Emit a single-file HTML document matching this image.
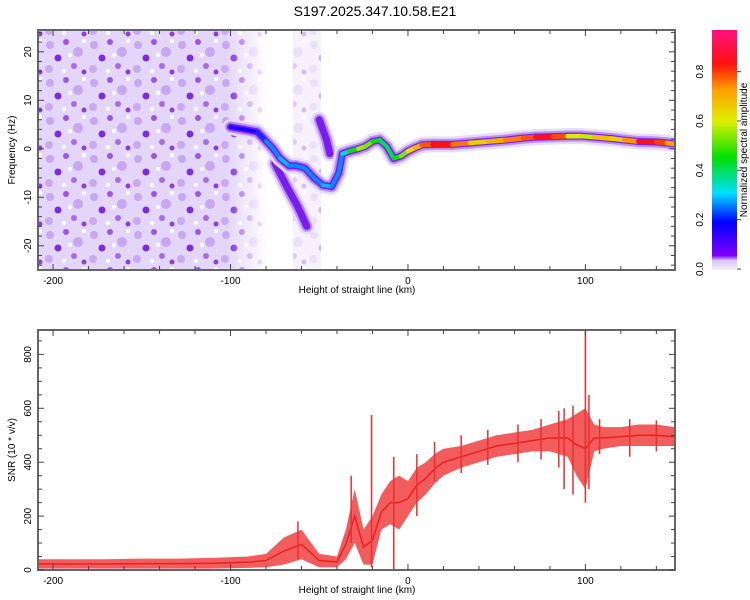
<!DOCTYPE html>
<html><head><meta charset="utf-8"><style>
body{margin:0;background:#fff;}
svg{display:block;font-family:"Liberation Sans",sans-serif;}
</style></head><body>
<svg id="c" width="750" height="600" viewBox="0 0 750 600">
<defs>
<pattern id="noise" width="44" height="38" patternUnits="userSpaceOnUse">
<rect width="44" height="38" fill="#e4d6f8"/>
<circle cx="6" cy="7" r="4" fill="#c7a6f2"/><circle cx="22" cy="4" r="3" fill="#9a55e8"/>
<circle cx="34" cy="14" r="5" fill="#c7a6f2"/><circle cx="14" cy="20" r="3.5" fill="#7b2be0"/>
<circle cx="30" cy="28" r="3" fill="#a56cea"/><circle cx="5" cy="31" r="4" fill="#c9aaf2"/>
<circle cx="40" cy="34" r="2.5" fill="#8a3de0"/><circle cx="20" cy="33" r="2" fill="#fff"/>
<circle cx="40" cy="3" r="2" fill="#fff"/><circle cx="26" cy="17" r="2" fill="#fff"/>
</pattern>
<linearGradient id="fade" x1="0" x2="1" y1="0" y2="0">
<stop offset="0" stop-color="#fff" stop-opacity="1"/><stop offset="0.82" stop-color="#fff" stop-opacity="1"/><stop offset="1" stop-color="#fff" stop-opacity="0"/>
</linearGradient>
<mask id="fm"><rect x="38" y="30" width="230" height="240" fill="url(#fade)"/></mask>
<linearGradient id="cbar" x1="0" x2="0" y1="1" y2="0">
<stop offset="0" stop-color="#f4eefc"/><stop offset="0.04" stop-color="#d9c4f6"/>
<stop offset="0.06" stop-color="#8000ff"/><stop offset="0.2" stop-color="#0000ff"/>
<stop offset="0.32" stop-color="#00e0ff"/><stop offset="0.47" stop-color="#00e000"/>
<stop offset="0.62" stop-color="#e0f000"/><stop offset="0.75" stop-color="#ffa000"/>
<stop offset="0.86" stop-color="#ff1010"/><stop offset="1" stop-color="#ff1080"/>
</linearGradient>
<clipPath id="clipTop"><rect x="38" y="30" width="637" height="240"/></clipPath>
<clipPath id="clipBot"><rect x="38" y="330" width="637" height="240"/></clipPath>
</defs>
<text x="375" y="16" text-anchor="middle" font-size="14">S197.2025.347.10.58.E21</text>
<g clip-path="url(#clipTop)">
<rect x="38" y="30" width="230" height="240" fill="url(#noise)" mask="url(#fm)"/>
<rect x="293" y="30" width="28" height="240" fill="url(#noise)" opacity="0.35"/>
<g id="ridge"></g>
</g>
<g id="snr" clip-path="url(#clipBot)"></g>
<rect x="38" y="30" width="637" height="240" fill="none" stroke="#666" stroke-width="2"/>
<rect x="38" y="330" width="637" height="240" fill="none" stroke="#666" stroke-width="2"/>
<g id="axes" font-size="10"></g>
<text x="357" y="293" text-anchor="middle" font-size="10">Height of straight line (km)</text>
<text x="357" y="593" text-anchor="middle" font-size="10">Height of straight line (km)</text>
<text transform="translate(15,150) rotate(-90)" text-anchor="middle" font-size="10">Frequency (Hz)</text>
<text transform="translate(15,450) rotate(-90)" text-anchor="middle" font-size="10">SNR (10 * v/v)</text>
<rect x="712" y="30" width="25" height="240" fill="url(#cbar)"/>
<text transform="translate(747,150) rotate(-90)" text-anchor="middle" font-size="10">Normalized spectral amplitude</text>
</svg>
<script>
// ---- data ----
const ridgeH=[-100,-92,-85,-80,-76,-72,-67,-63,-58,-53,-48,-43,-39,-37,-33,-28,-24,-20,-16,-12,-8,-4,0,4,8,14,25,35,45,55,65,72,82,90,98,105,115,122,130,140,146,150];
const ridgeF=[4.5,4,3.5,1.6,0,-2,-3.5,-3.5,-4,-6,-7.5,-7.8,-5,-1,-0.5,0,0.5,1.5,1.8,0.5,-2,-1.5,-0.5,0.2,0.8,0.9,0.9,1.2,1.5,1.8,2.2,2.4,2.5,2.6,2.6,2.4,2.1,1.8,1.5,1.4,1.2,1];
const ridgeA=[0.15,0.2,0.15,0.3,0.25,0.3,0.3,0.25,0.3,0.25,0.3,0.3,0.25,0.3,0.4,0.55,0.6,0.5,0.45,0.4,0.45,0.5,0.6,0.7,0.75,0.87,0.87,0.7,0.65,0.8,0.75,0.87,0.88,0.75,0.5,0.7,0.7,0.65,0.87,0.85,0.8,0.7];
const branch1H=[-75,-68,-62,-57];
const branch1F=[-3,-8,-12,-16];
const branch2H=[-50,-46,-44];
const branch2F=[6,2,-1];
const snrH=[-208,-190,-170,-150,-130,-110,-90,-80,-70,-60,-50,-40,-35,-30,-25,-20,-15,-10,-5,0,5,10,15,20,30,40,50,60,70,80,90,95,100,105,110,120,130,140,150];
const snrLow=[5,5,5,5,5,5,8,10,20,40,10,10,40,100,20,20,150,170,150,200,250,280,320,350,380,400,420,430,440,440,420,350,300,440,450,460,460,460,460];
const snrHigh=[40,40,40,42,42,45,50,60,120,150,60,50,150,300,150,200,280,330,350,330,380,400,430,450,460,480,500,510,520,540,560,580,600,540,530,530,540,540,530];
const spikeH=[-62,-32,-20.5,-8,5,15,30,45,62,75,85,88,93,100,102,108,125,140];
const spikeLo=[40,100,10,0,200,330,360,390,400,410,380,300,280,250,300,430,420,440];
const spikeHi=[180,350,575,420,430,475,500,520,540,560,590,600,610,890,650,560,560,555];
const xTicksMajor=[-200,-100,0,100];
const fTicks=[-20,-10,0,10,20];
const snrTicks=[0,200,400,600,800];
const cbTicks=[0.0,0.2,0.4,0.6,0.8];
// ---- scales ----
const xS=h=>38+(h+208.5)/359*637;
const yF=f=>30+(24.5-f)/49.5*240;
const yS=v=>570-v*0.2695;
const yC=a=>269-a*246.7;
const NS="http://www.w3.org/2000/svg";
function mk(tag,attrs,parent){const e=document.createElementNS(NS,tag);for(const k in attrs)e.setAttribute(k,attrs[k]);parent.appendChild(e);return e;}
function cmap(a){
 const st=[[0,[216,196,246]],[0.06,[128,0,255]],[0.2,[0,0,255]],[0.32,[0,224,255]],[0.47,[0,224,0]],[0.62,[224,240,0]],[0.75,[255,160,0]],[0.86,[255,16,16]],[1,[255,16,128]]];
 for(let i=1;i<st.length;i++){if(a<=st[i][0]){const t=(a-st[i-1][0])/(st[i][0]-st[i-1][0]);const c=st[i-1][1].map((v,j)=>Math.round(v+(st[i][1][j]-v)*t));return `rgb(${c})`;}}
 return 'rgb(255,16,128)';
}
const ridge=document.getElementById('ridge');
function drawTrack(H,F,A,name){
 const layers=[[16,'#e6dbf9'],[11,'#b88ef0'],[7,'#7a1cf0'],[4.5,null]];
 layers.forEach(([w,col])=>{
  for(let i=0;i<H.length-1;i++){
   const a=A?(A[i]+A[i+1])/2:0.12;
   let c=col;
   if(c===null){ if(a<0.17) continue; c=cmap(a);}
   const s=mk('line',{x1:xS(H[i]),y1:yF(F[i]),x2:xS(H[i+1]),y2:yF(F[i+1]),stroke:c,'stroke-width':(c===col?w:w*(0.7+a*0.5)),'stroke-linecap':'round'},ridge);
   
   
  }
 });
}
drawTrack(branch1H,branch1F,null,'branch-lower');
drawTrack(branch2H,branch2F,null,'branch-upper');
drawTrack(ridgeH,ridgeF,ridgeA,'ridge');
// SNR band
const snr=document.getElementById('snr');
let pts=snrH.map((h,i)=>xS(h)+','+yS(snrHigh[i]));
for(let i=snrH.length-1;i>=0;i--)pts.push(xS(snrH[i])+','+yS(snrLow[i]));
const band=mk('polygon',{points:pts.join(' '),fill:'#f04040','fill-opacity':'0.85'},snr);


const mid=mk('polyline',{points:snrH.map((h,i)=>xS(h)+','+yS((snrLow[i]+snrHigh[i])/2)).join(' '),fill:'none',stroke:'#e82020','stroke-width':1.5},snr);


spikeH.forEach((h,i)=>{
 const s=mk('line',{x1:xS(h),x2:xS(h),y1:yS(spikeLo[i]),y2:yS(spikeHi[i]),stroke:'#e83030','stroke-width':1.5},snr);
 
 
});
// axes
const ax=document.getElementById('axes');
function tick(x1,y1,x2,y2){const t=mk('line',{x1,y1,x2,y2,stroke:'#444','stroke-width':1},ax);}
function label(x,y,txt,rot,name){const t=mk('text',{x:0,y:0,'text-anchor':'middle',transform:`translate(${x},${y})`+(rot?' rotate(-90)':'')},ax);t.textContent=txt;}
for(let h=-200;h<=140;h+=20){const x=xS(h);const maj=xTicksMajor.includes(h);const L=maj?6:4;
 [30,330].forEach(y=>tick(x,y,x,y+L));[270,570].forEach(y=>tick(x,y,x,y-L));}
xTicksMajor.forEach(h=>{label(xS(h),284,String(h),false,'top-x-tick-label');label(xS(h),584,String(h),false,'bottom-x-tick-label');});
for(let f=-24;f<=24;f+=2){const y=yF(f);const L=(f%10===0)?6:4;tick(38,y,38+L,y);tick(675,y,675-L,y);}
fTicks.forEach(f=>label(31,yF(f),String(f),true,'top-y-tick-label'));
for(let v=0;v<=850;v+=50){const y=yS(v);const L=(v%200===0)?6:4;tick(38,y,38+L,y);tick(675,y,675-L,y);}
snrTicks.forEach(v=>label(31,yS(v),String(v),true,'bottom-y-tick-label'));
cbTicks.forEach(a=>{label(703,yC(a),a.toFixed(1),true,'colorbar-tick-label');tick(737,yC(a),741,yC(a));});
</script>
</body></html>
